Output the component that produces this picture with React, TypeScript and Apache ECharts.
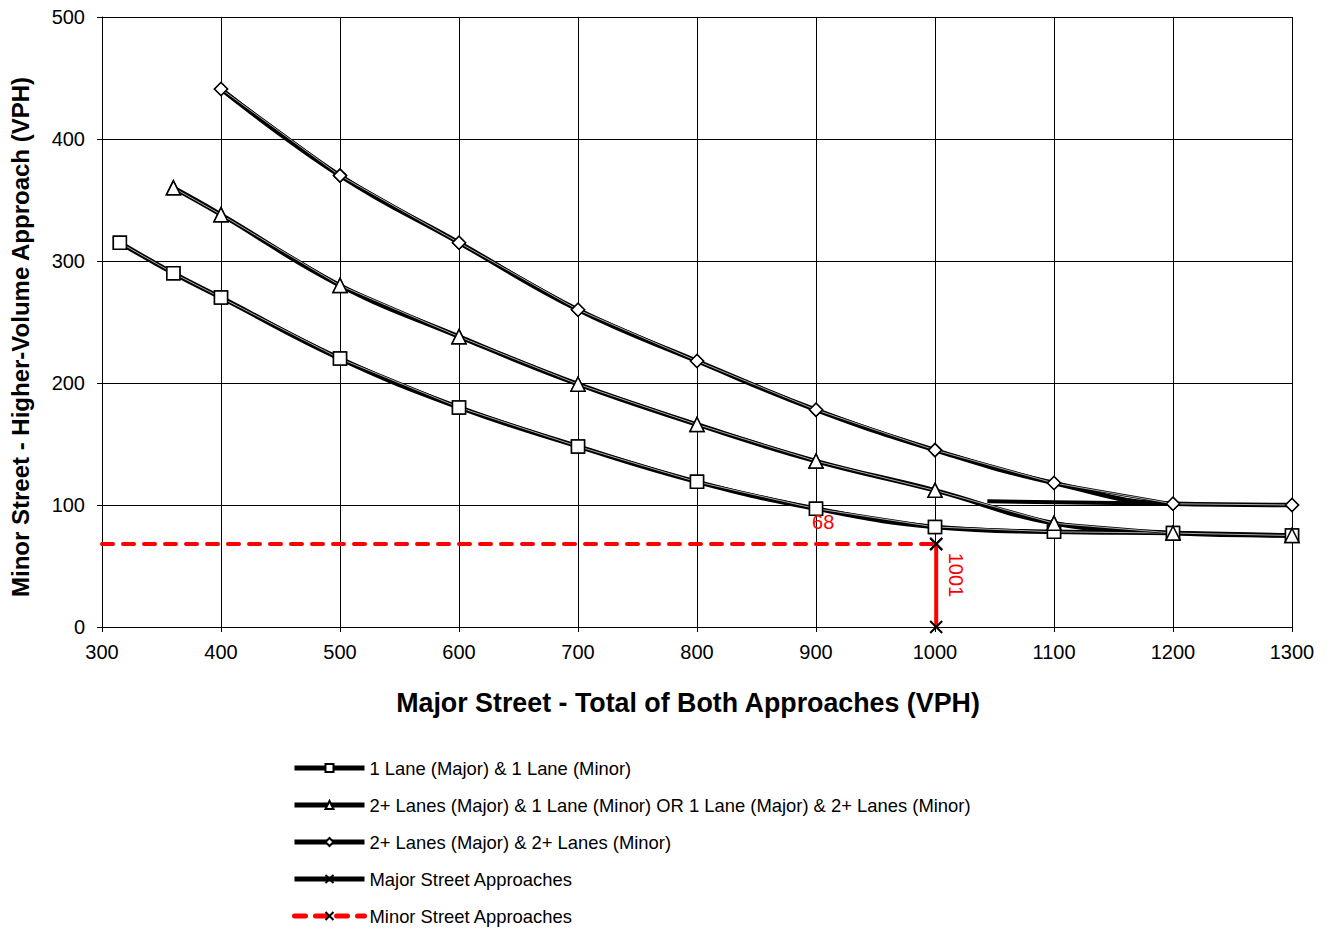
import React, { useEffect, useRef } from "react";
import * as echarts from "echarts";

const FONT = "'Liberation Sans', Arial, sans-serif";

// 1 Lane (Major) & 1 Lane (Minor)
const oneOneX = [315, 360, 400, 500, 600, 700, 800, 900, 1000, 1100, 1200, 1300];
const oneOneY = [315, 290, 270, 220, 180, 148, 119, 97, 82, 78, 77, 75];
// 2+ Lanes (Major) & 1 Lane (Minor) OR 1 Lane (Major) & 2+ Lanes (Minor)
const twoOneX = [360, 400, 500, 600, 700, 800, 900, 1000, 1100, 1200, 1300];
const twoOneY = [360, 338, 280, 238, 199, 166, 136, 112, 85, 77, 75];
// 2+ Lanes (Major) & 2+ Lanes (Minor)
const twoTwoX = [400, 500, 600, 700, 800, 900, 1000, 1100, 1200, 1300];
const twoTwoY = [441, 370, 315, 260, 218, 178, 145, 118, 101, 100];
// stray trend segment
const segX = [1044, 1200];
const segY = [103, 101];
// Major street approaches (vertical)
const majorX = [1001, 1001];
const majorY = [0, 68];
// Minor street approaches (horizontal)
const minorX = [300, 1001];
const minorY = [68, 68];

const names = [
  "1 Lane (Major) & 1 Lane (Minor)",
  "2+ Lanes (Major) & 1 Lane (Minor) OR 1 Lane (Major) & 2+ Lanes (Minor)",
  "2+ Lanes (Major) & 2+ Lanes (Minor)",
  "Major Street Approaches",
  "Minor Street Approaches",
];

const xTicks = { min: 300, max: 1300, interval: 100 };
const yTicks = { min: 0, max: 500, interval: 100 };

const X_SYMBOL = "path://M0,0L10,10M10,0L0,10";

const zip = (xs: number[], ys: number[]) => xs.map((x, i) => [x, ys[i]]);

function group(name: string, xs: number[], ys: number[], symbol: string, size: number) {
  const data = zip(xs, ys);
  const markerStyle = { color: "#fff", borderColor: "#000", borderWidth: 1.5 };
  return [
    {
      name,
      type: "line",
      data,
      smooth: 0.45,
      symbol,
      symbolSize: size,
      showSymbol: true,
      lineStyle: { color: "#000", width: 4.5 },
      itemStyle: markerStyle,
      z: 2,
    },
    {
      name: name + " outline",
      type: "line",
      data,
      symbol: "none",
      lineStyle: { color: "#000", width: 2.4 },
      silent: true,
      z: 3,
    },
    {
      name: name + " inner",
      type: "line",
      data,
      symbol: "none",
      lineStyle: { color: "#fff", width: 0.8, opacity: 0.85 },
      silent: true,
      z: 3,
    },
    {
      name: name + " markers",
      type: "line",
      data,
      symbol,
      symbolSize: size,
      showSymbol: true,
      lineStyle: { width: 0, opacity: 0 },
      itemStyle: markerStyle,
      z: 4,
    },
  ];
}

export default function App() {
  const ref = useRef<HTMLDivElement>(null);
  useEffect(() => {
    if (!ref.current) return;
    const chart = echarts.init(ref.current, undefined, { renderer: "svg" });
    const axisLabel = { fontSize: 20, color: "#000", fontFamily: FONT };
    const option = {
      animation: false,
      backgroundColor: "#fff",
      textStyle: { fontFamily: FONT },
      grid: { left: 102, top: 17, right: 35, bottom: 301, containLabel: false },
      xAxis: {
        type: "value",
        ...xTicks,
        name: "Major Street - Total of Both Approaches (VPH)",
        nameLocation: "middle",
        nameGap: 62,
        nameTextStyle: {
          fontSize: 26.8,
          fontWeight: "bold",
          color: "#000",
          fontFamily: FONT,
          padding: [0, 18, 0, 0],
        },
        axisLine: { show: true, lineStyle: { color: "#000", width: 1 } },
        axisTick: { show: true, length: 5, lineStyle: { color: "#000" } },
        axisLabel: { ...axisLabel, margin: 15, formatter: (v: number) => String(v) },
        splitLine: { show: true, lineStyle: { color: "#000", width: 1 } },
      },
      yAxis: {
        type: "value",
        ...yTicks,
        name: "Minor Street - Higher-Volume Approach (VPH)",
        nameLocation: "middle",
        nameGap: 70,
        nameTextStyle: {
          fontSize: 24,
          fontWeight: "bold",
          color: "#000",
          fontFamily: FONT,
          padding: [0, 30, 0, 0],
        },
        axisLine: { show: true, lineStyle: { color: "#000", width: 1 } },
        axisTick: { show: true, length: 5, lineStyle: { color: "#000" } },
        axisLabel: { ...axisLabel, margin: 17, formatter: (v: number) => String(v) },
        splitLine: { show: true, lineStyle: { color: "#000", width: 1 } },
      },
      legend: {
        orient: "vertical",
        left: 292,
        top: 759,
        padding: 0,
        itemWidth: 70,
        itemHeight: 10,
        itemGap: 19,
        textStyle: { fontSize: 18.4, color: "#000", fontFamily: FONT },
        data: [
          { name: names[0], lineStyle: { width: 5 } },
          { name: names[1], lineStyle: { width: 5 } },
          { name: names[2], lineStyle: { width: 5 } },
          {
            name: names[3],
            itemStyle: { color: "transparent", borderColor: "#000", borderWidth: 2 },
            lineStyle: { color: "#000", width: 5 },
          },
          {
            name: names[4],
            itemStyle: { color: "transparent", borderColor: "#000", borderWidth: 2 },
            lineStyle: { width: 5 },
          },
        ],
      },
      series: [
        ...group(names[0], oneOneX, oneOneY, "rect", 13),
        ...group(names[1], twoOneX, twoOneY, "triangle", 14),
        ...group(names[2], twoTwoX, twoTwoY, "diamond", 13),
        {
          name: "trend segment",
          type: "line",
          data: zip(segX, segY),
          symbol: "none",
          lineStyle: { color: "#000", width: 4 },
          z: 2,
        },
        {
          name: names[4],
          type: "line",
          data: zip(minorX, minorY).map((p, i) =>
            i === 1
              ? {
                  value: p,
                  label: {
                    show: true,
                    position: "top",
                    offset: [-113, 0],
                    color: "#ff0000",
                    fontSize: 20,
                    fontFamily: FONT,
                    formatter: (q: any) => String(q.value[1]),
                  },
                }
              : { value: p, symbol: "none" }
          ),
          symbol: X_SYMBOL,
          symbolSize: 12,
          showSymbol: true,
          lineStyle: { color: "#ff0000", width: 4, type: [11, 10], cap: "round" },
          itemStyle: { color: "transparent", borderColor: "#000", borderWidth: 2 },
          z: 5,
        },
        {
          name: names[3],
          type: "line",
          data: zip(majorX, majorY).map((p, i) =>
            i === 0
              ? {
                  value: p,
                  label: {
                    show: true,
                    position: "inside",
                    rotate: -90,
                    align: "center",
                    verticalAlign: "middle",
                    offset: [-52, -20],
                    color: "#ff0000",
                    fontSize: 20,
                    fontFamily: FONT,
                    formatter: (q: any) => String(q.value[0]),
                  },
                }
              : { value: p }
          ),
          symbol: X_SYMBOL,
          symbolSize: 12,
          showSymbol: true,
          lineStyle: { color: "#ff0000", width: 4 },
          itemStyle: { color: "transparent", borderColor: "#000", borderWidth: 2 },
          z: 6,
        },
      ],
    };
    chart.setOption(option as any);
    return () => chart.dispose();
  }, []);
  return (
    <div
      ref={ref}
      style={{ position: "absolute", left: 0, top: 0, width: 1327, height: 928 }}
    />
  );
}
